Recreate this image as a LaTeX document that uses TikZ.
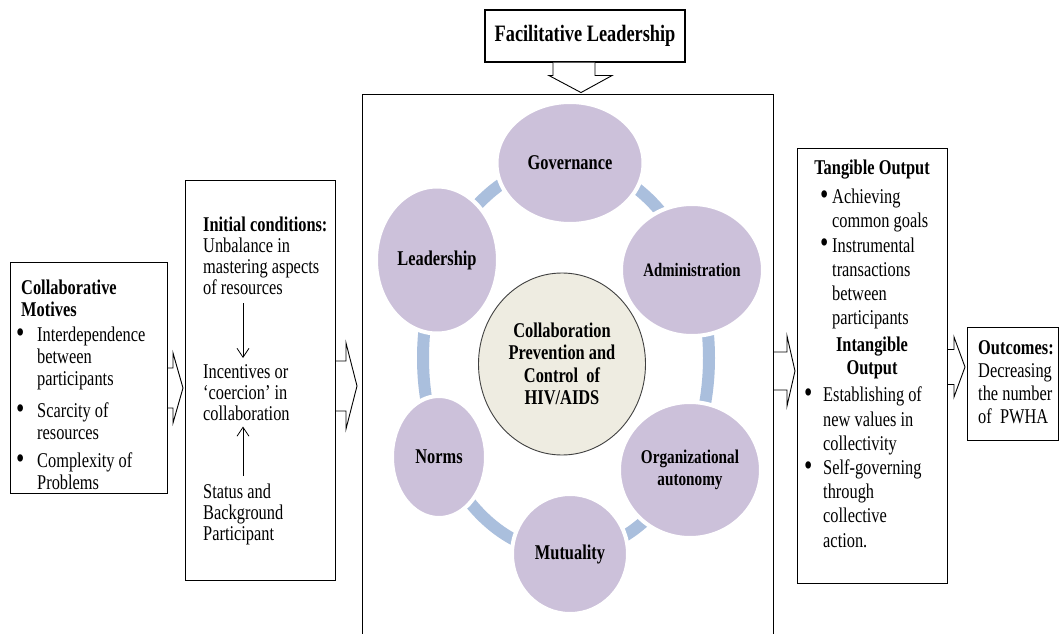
\documentclass[tikz,border=0pt]{standalone}
\usepackage{fontspec}
\setmainfont{Liberation Serif}[FakeStretch=0.78]
\usetikzlibrary{shapes.geometric,arrows.meta,calc}
\definecolor{circfill}{HTML}{CCC1DA}
\definecolor{centfill}{HTML}{EEECE1}
\definecolor{ringblue}{HTML}{AABFDD}
\newcommand{\fsz}[2]{\fontsize{#1}{#2}\selectfont}
\newcommand{\bigdot}{\raisebox{-0.5pt}{\scalebox{1.45}{\textbullet}}}
\newcommand{\bul}{\makebox[21pt][l]{\bigdot}}
\newcommand{\ind}{\hspace*{21pt}}
\newcommand{\bulb}{\makebox[12pt][l]{\bigdot}}
\newcommand{\indb}{\hspace*{12pt}}
\newcommand{\bulc}{\makebox[19pt][l]{\bigdot}}
\newcommand{\indc}{\hspace*{19pt}}
\newcommand{\harrow}[5]{%
  \draw[blk] let \p1=(#1), \p2=(#2) in
    (\x1,\y1+#3) -- (\x2-#5,\y1+#3) -- (\x2-#5,\y1+#4) -- (\x2,\y1)
    -- (\x2-#5,\y1-#4) -- (\x2-#5,\y1-#3) -- (\x1,\y1-#3);}
\begin{document}
\begin{tikzpicture}[x=1pt,y=-1pt,
  box/.style={draw=black, line width=1.1pt, fill=white, inner sep=0pt, anchor=north west},
  txt/.style={inner sep=0pt, align=left, anchor=north west, font=\fsz{21}{21}},
  blk/.style={draw=black, line width=0.9pt, fill=white, line join=miter},
  bub/.style={ellipse, fill=circfill, draw=white, line width=4pt, inner sep=0pt, font=\fsz{21}{22}\bfseries, align=center},
  thinarr/.style={draw=black, line width=0.8pt, -{Straight Barb[length=9pt,width=12pt]}}
]
\useasboundingbox (0,0) rectangle (1061,634);
\fill[white] (0,0) rectangle (1061,634);

% boxes
\node[box, minimum width=157, minimum height=231] (b1) at (10,262) {};
\node[box, minimum width=150, minimum height=400] (b2) at (185,180) {};
\node[box, minimum width=411, minimum height=580] (cbox) at (362,94) {};
\node[box, minimum width=150, minimum height=435] (rb) at (797,148) {};
\node[box, minimum width=91, minimum height=113] (ob) at (967,327) {};
\node[box, anchor=center, minimum width=200, minimum height=52, font=\fsz{23.5}{24}\bfseries] (fl) at (585,36) {Facilitative Leadership};

% block arrows
\draw[blk] ($(fl.south)+(-32,0)$) -- ($(fl.south)+(-32,13)$) -- ($(fl.south)+(-36,13)$)
  -- ($(fl.south)+(-4,30)$) -- ($(fl.south)+(27,13)$) -- ($(fl.south)+(10,13)$) -- ($(fl.south)+(10,0)$);
\harrow{b1.east |- 0,388}{$(b2.west |- 0,388)+(-2,0)$}{20pt}{35pt}{10pt}
\harrow{b2.east |- 0,386}{$(cbox.west |- 0,386)+(-5,0)$}{25pt}{43pt}{11pt}
\harrow{cbox.east |- 0,371}{$(rb.west |- 0,371)+(-2,0)$}{19pt}{35pt}{8pt}
\harrow{rb.east |- 0,367}{$(ob.west |- 0,367)+(-2,0)$}{17.5pt}{30pt}{11pt}

% ring
\draw[ringblue, line width=12pt] (566,358) ellipse [x radius=143, y radius=195];

% circles
\node[bub, minimum width=147, minimum height=122] (gov) at (570,163) {Governance};
\node[bub, minimum width=122, minimum height=147] (lead) at (437,260) {Leadership};
\node[bub, minimum width=142, minimum height=132, font=\fsz{19}{20}\bfseries] (adm) at (692,270) {Administration};
\node[bub, minimum width=142, minimum height=136, font=\fsz{19.5}{22}\bfseries] (org) at (690,470) {Organizational\\autonomy};
\node[bub, minimum width=116, minimum height=120] (mut) at (570,554) {Mutuality};
\node[bub, minimum width=94, minimum height=122] (norms) at (439,457) {Norms};
\node[ellipse, fill=centfill, draw=black!75, line width=0.9pt, minimum width=167, minimum height=182,
  inner sep=0pt, align=center, font=\fsz{21}{22.5}\bfseries] (cc) at (562,364)
  {Collaboration\\Prevention and\\Control\ \ of\\HIV/AIDS};

% box 1 text
\node[txt, font=\fsz{21}{22}] (t1) at (16,280) {%
  \hspace*{5pt}\textbf{Collaborative}\\
  \hspace*{5pt}\textbf{Motives}\\[3pt]
  \bul Interdependence\\
  \ind between\\
  \ind participants\\[10pt]
  \bul Scarcity of\\
  \ind resources\\[6pt]
  \bul Complexity of\\
  \ind Problems};

% box 2 text
\node[txt] (i1) at (203,217) {\textbf{Initial conditions:}\\Unbalance in\\mastering aspects\\of resources};
\node[txt] (i2) at (203,364) {Incentives or\\`coercion' in\\collaboration};
\node[txt] (i3) at (203,484) {Status and\\Background\\Participant};
\coordinate (ax) at (243,0);
\draw[thinarr] ($(i1.south -| ax)+(0,8)$) -- ($(i2.north -| ax)+(0,-6)$);
\draw[thinarr] ($(i3.north -| ax)+(0,-8)$) -- ($(i2.south -| ax)+(0,6)$);

% right box text
\node[inner sep=0pt, anchor=base, font=\fsz{21}{24}\bfseries] (r1) at (872,174) {Tangible Output};
\node[txt, font=\fsz{21}{24.2}] (r2) at (820,189) {%
  \bulb Achieving\\
  \indb common goals\\
  \bulb Instrumental\\
  \indb transactions\\
  \indb between\\
  \indb participants};
\node[inner sep=0pt, anchor=north, align=center, font=\fsz{21}{23}\bfseries] (r3) at (872,337) {Intangible\\Output};
\node[txt, font=\fsz{21}{24.2}] (r4) at (804,387) {%
  \bulc Establishing of\\
  \indc new values in\\
  \indc collectivity\\
  \bulc Self-governing\\
  \indc through\\
  \indc collective\\
  \indc action.};

% outcomes
\node[txt, font=\fsz{21}{23}] (o1) at (978,340) {\textbf{Outcomes:}\\Decreasing\\the number\\of\ \ PWHA};
\end{tikzpicture}
\end{document}
